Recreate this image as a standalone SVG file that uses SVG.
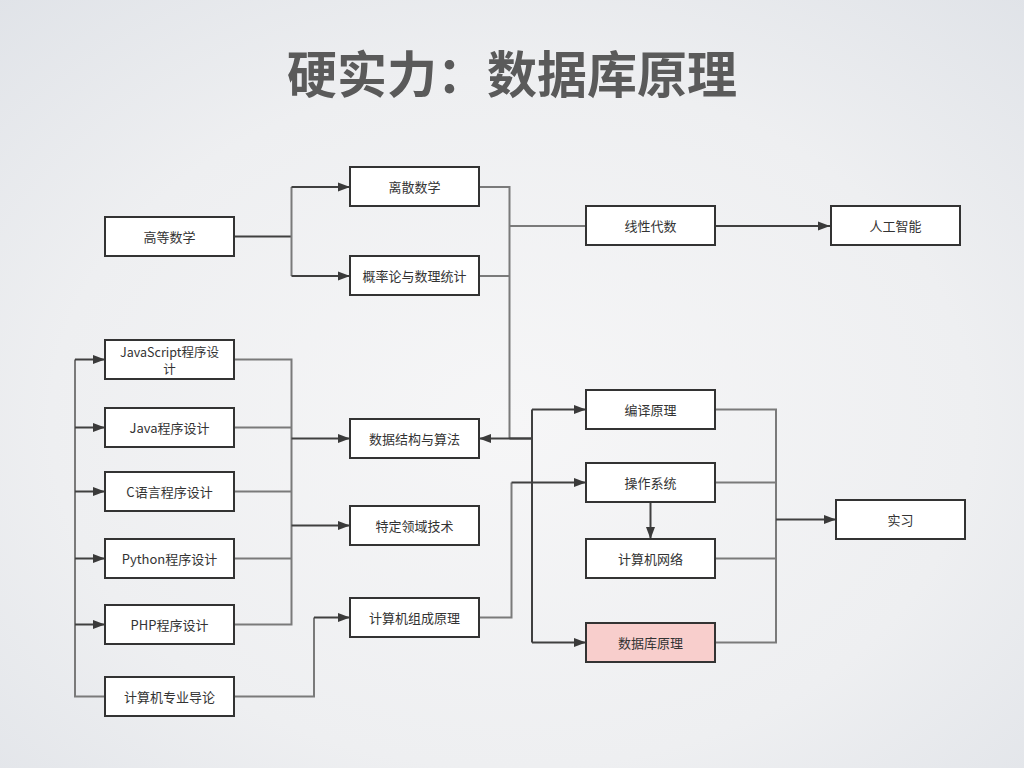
<svg xmlns="http://www.w3.org/2000/svg" width="1024" height="768" viewBox="0 0 1024 768">
<defs>
<radialGradient id="bg" cx="50%" cy="55%" r="75%">
<stop offset="0" stop-color="#f6f6f7"/>
<stop offset="0.6" stop-color="#eeeff1"/>
<stop offset="1" stop-color="#e0e3e8"/>
</radialGradient>
<marker id="ah" markerUnits="userSpaceOnUse" markerWidth="12" markerHeight="10" refX="12" refY="5" orient="auto">
<path d="M0,0.5 L12,5 L0,9.5 z" fill="#3a3a3a"/>
</marker>
<style>
.box{fill:#ffffff;stroke:#333333;stroke-width:2}
.pink{fill:#f8cecc}
.t{font-family:"Noto Sans CJK SC","Liberation Sans",sans-serif;font-size:13px;fill:#333333;text-anchor:middle;dominant-baseline:central}
.s{font-size:12.5px}
.g{fill:none;stroke:#7a7a7a;stroke-width:2}
.d{fill:none;stroke:#404040;stroke-width:2}
.a{fill:none;stroke:#404040;stroke-width:2;marker-end:url(#ah)}
.title{font-family:"Noto Sans CJK SC","Liberation Sans",sans-serif;font-size:50px;font-weight:bold;fill:#5a5a5a;text-anchor:middle}
</style>
</defs>
<rect width="1024" height="768" fill="url(#bg)"/>
<text class="title" x="512" y="93">硬实力：数据库原理</text>

<g id="connectors">
<path class="d" d="M234,236.5 H291.5"/>
<path class="g" d="M291.5,187 V276"/>
<path class="a" d="M291.5,187 H350"/>
<path class="a" d="M291.5,276 H350"/>
<path class="g" d="M479,187 H509.5 V438.5"/>
<path class="g" d="M479,276 H509.5"/>
<path class="g" d="M509.5,226 H586"/>
<path class="a" d="M715,226 H830"/>
<path class="a" d="M532,438.5 H479"/>
<path class="d" d="M509.5,438.5 H532"/>
<path class="d" d="M532,409.5 V642.5"/>
<path class="a" d="M532,409.5 H586"/>
<path class="a" d="M532,642.5 H586"/>
<path class="g" d="M234,359.5 H291.5 V624.5 H234"/>
<path class="g" d="M234,427.5 H291.5"/>
<path class="g" d="M234,491.5 H291.5"/>
<path class="g" d="M234,558.5 H291.5"/>
<path class="a" d="M291.5,438.5 H350"/>
<path class="a" d="M291.5,525.5 H350"/>
<path class="g" d="M105,696.5 H75 V359.5"/>
<path class="a" d="M75,359.5 H105"/>
<path class="a" d="M75,427.5 H105"/>
<path class="a" d="M75,491.5 H105"/>
<path class="a" d="M75,558.5 H105"/>
<path class="a" d="M75,624.5 H105"/>
<path class="g" d="M234,696.5 H314 V617.5"/>
<path class="a" d="M314,617.5 H350"/>
<path class="g" d="M479,617.5 H511.5 V482.5"/>
<path class="a" d="M511.5,482.5 H586"/>
<path class="a" d="M650.5,502 V539"/>
<path class="g" d="M715,409.5 H776 V642.5 H715"/>
<path class="g" d="M715,482.5 H776"/>
<path class="g" d="M715,558.5 H776"/>
<path class="a" d="M776,519.5 H836"/>
</g>

<g id="n-gaodeng"><rect class="box" x="105" y="217" width="129" height="39"/><text class="t" x="169.5" y="236">高等数学</text></g>
<g id="n-lisan"><rect class="box" x="350" y="167" width="129" height="39"/><text class="t" x="414.5" y="186">离散数学</text></g>
<g id="n-gailv"><rect class="box" x="350" y="256" width="129" height="39"/><text class="t" x="414.5" y="275">概率论与数理统计</text></g>
<g id="n-xianxing"><rect class="box" x="586" y="206" width="129" height="39"/><text class="t" x="650.5" y="225">线性代数</text></g>
<g id="n-ai"><rect class="box" x="831" y="206" width="129" height="39"/><text class="t" x="895.5" y="225">人工智能</text></g>
<g id="n-js"><rect class="box" x="105" y="340" width="129" height="39"/><text class="t s" x="169.5" y="351">JavaScript程序设</text><text class="t s" x="169.5" y="368">计</text></g>
<g id="n-java"><rect class="box" x="105" y="408" width="129" height="39"/><text class="t" x="169.5" y="427">Java程序设计</text></g>
<g id="n-c"><rect class="box" x="105" y="472" width="129" height="39"/><text class="t" x="169.5" y="491">C语言程序设计</text></g>
<g id="n-python"><rect class="box" x="105" y="539" width="129" height="39"/><text class="t" x="169.5" y="558">Python程序设计</text></g>
<g id="n-php"><rect class="box" x="105" y="605" width="129" height="39"/><text class="t" x="169.5" y="624">PHP程序设计</text></g>
<g id="n-intro"><rect class="box" x="105" y="677" width="129" height="39"/><text class="t" x="169.5" y="696">计算机专业导论</text></g>
<g id="n-ds"><rect class="box" x="350" y="419" width="129" height="39"/><text class="t" x="414.5" y="438">数据结构与算法</text></g>
<g id="n-domain"><rect class="box" x="350" y="506" width="129" height="39"/><text class="t" x="414.5" y="525">特定领域技术</text></g>
<g id="n-org"><rect class="box" x="350" y="598" width="129" height="39"/><text class="t" x="414.5" y="617">计算机组成原理</text></g>
<g id="n-compiler"><rect class="box" x="586" y="390" width="129" height="39"/><text class="t" x="650.5" y="409">编译原理</text></g>
<g id="n-os"><rect class="box" x="586" y="463" width="129" height="39"/><text class="t" x="650.5" y="482">操作系统</text></g>
<g id="n-net"><rect class="box" x="586" y="539" width="129" height="39"/><text class="t" x="650.5" y="558">计算机网络</text></g>
<g id="n-db"><rect class="box pink" x="586" y="623" width="129" height="39"/><text class="t" x="650.5" y="642">数据库原理</text></g>
<g id="n-intern"><rect class="box" x="836" y="500" width="129" height="39"/><text class="t" x="900.5" y="519">实习</text></g>
</svg>
